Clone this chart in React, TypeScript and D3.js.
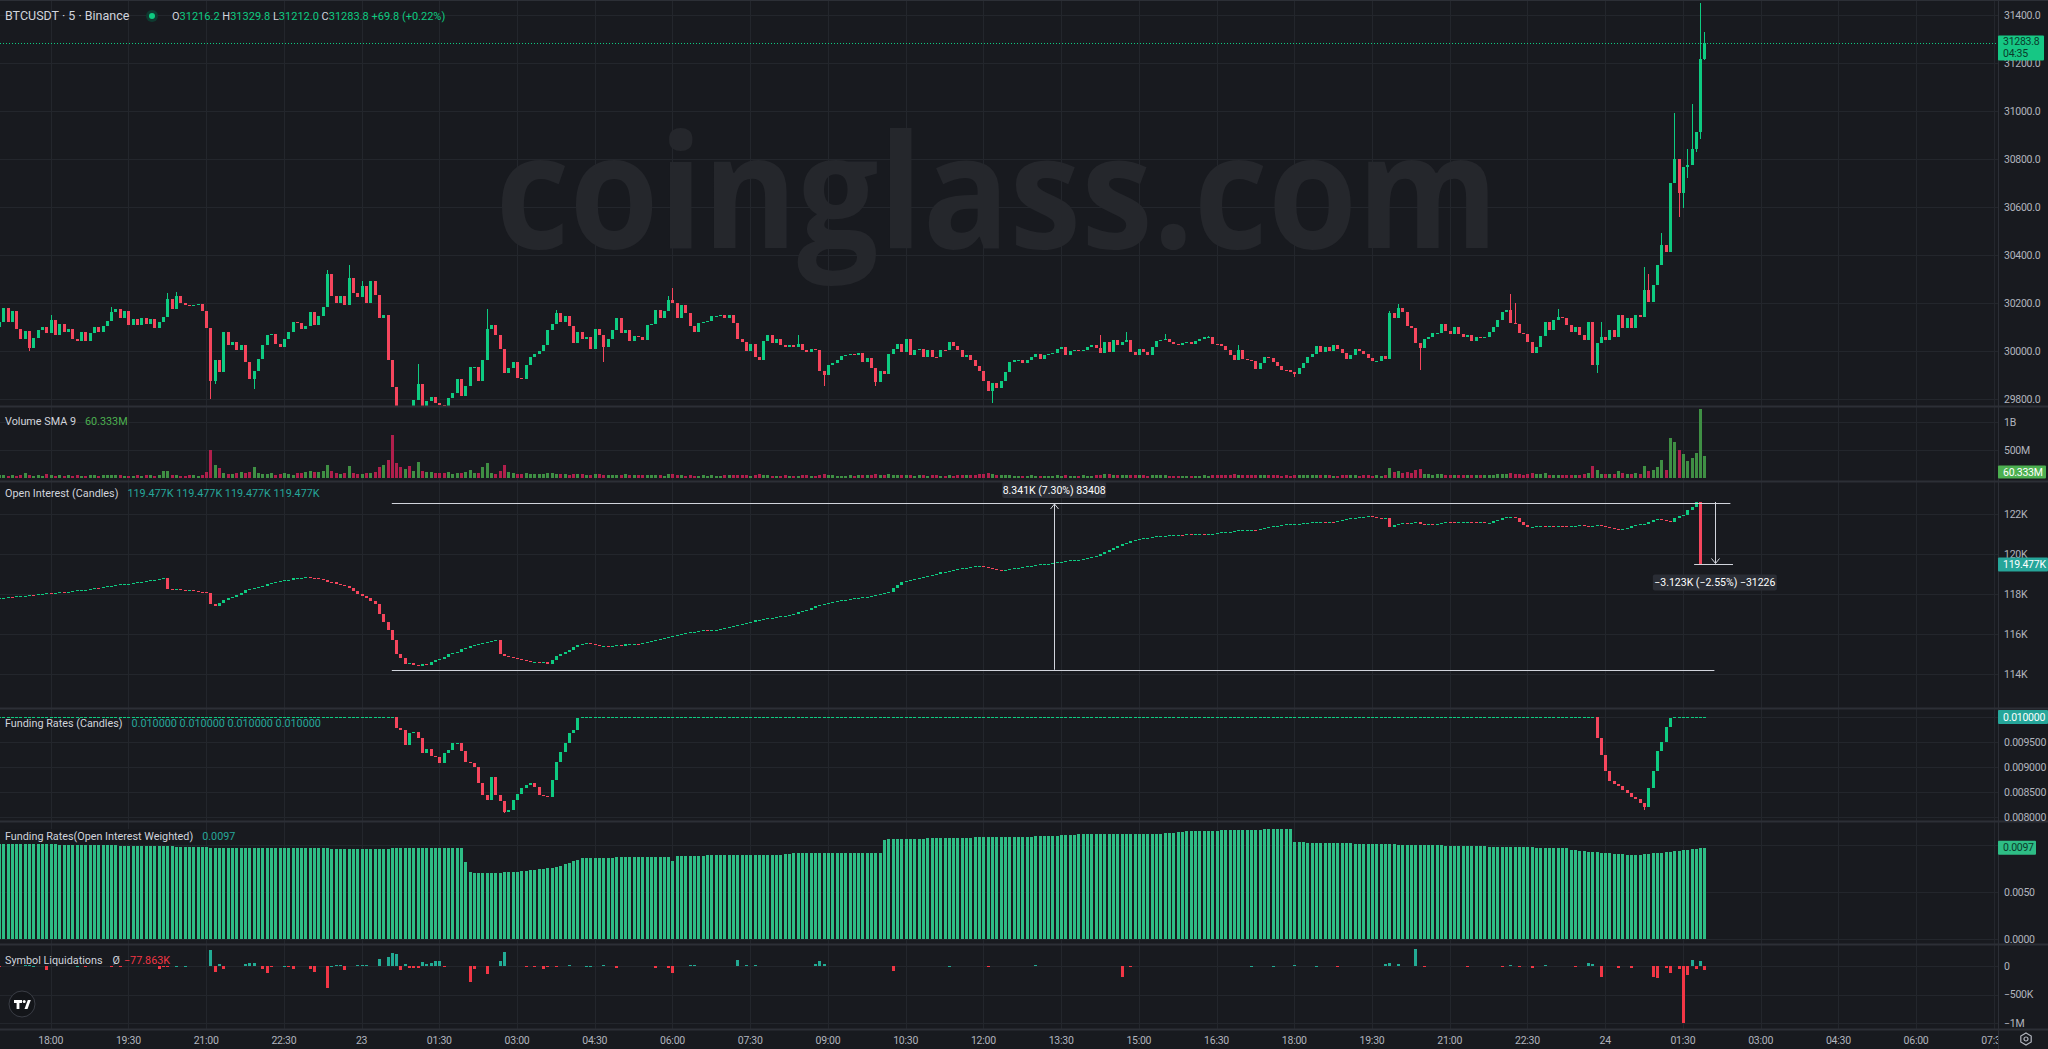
import React from "react";
import * as d3 from "d3";

// ------------------------------------------------------------------ data
// 5-minute candles, index 0 = 17:00 (day 22) ... index 395 = 01:55 (day 24)
const timeLabels = ["18:00","19:30","21:00","22:30","23","01:30","03:00","04:30","06:00","07:30","09:00","10:30","12:00","13:30","15:00","16:30","18:00","19:30","21:00","22:30","24","01:30","03:00","04:30","06:00","07:30"];

const priceFirstOpen = 30100;
const priceClose = [
30122,30179,30122,30165,30090,30049,30082,30013,30056,30087,
30099,30073,30130,30066,30113,30080,30090,30048,30042,30079,
30043,30076,30099,30080,30106,30127,30161,30175,30137,30165,
30108,30134,30109,30139,30113,30132,30094,30122,30140,30217,
30175,30228,30200,30193,30186,30192,30197,30165,30094,29876,
29961,29911,30080,30024,30038,30003,30024,29954,29883,29918,
29968,30024,30066,30070,30031,30017,30052,30080,30122,30118,
30090,30104,30161,30108,30144,30183,30320,30228,30200,30228,
30193,30306,30242,30225,30270,30200,30291,30235,30137,30151,
29961,29851,29760,29745,29765,29758,29794,29862,29765,29790,
29808,29785,29775,29766,29806,29823,29883,29813,29855,29932,
29935,29876,29963,30090,30108,30066,30010,29907,29930,29956,
29887,29883,29942,29975,29989,29999,30024,30087,30113,30158,
30122,30144,30104,30034,30080,30052,30059,30010,30090,30066,
30017,30052,30087,30137,30076,30087,30042,30062,30059,30045,
30108,30113,30172,30137,30165,30214,30200,30137,30193,30158,
30104,30080,30118,30122,30127,30144,30145,30148,30137,30151,
30118,30052,30038,30000,30031,29975,29961,30042,30066,30034,
30048,30024,30017,30024,30017,30028,30006,29996,30010,30003,
29916,29901,29940,29952,29962,29978,29985,29988,29982,29990,
29955,29972,29930,29869,29916,29904,29986,30010,30031,29996,
30048,29982,30006,30010,29977,30006,29977,29975,30006,30003,
30038,30020,30003,29975,29985,29961,29939,29918,29876,29834,
29865,29845,29876,29911,29954,29961,29962,29949,29963,29977,
29986,29968,29982,29986,29992,30010,30017,29982,30000,30006,
30000,30003,30017,30024,30014,29992,30038,29996,30045,30024,
30038,30045,29996,29982,30010,29996,29982,30017,30042,30044,
30048,30038,30031,30024,30035,30038,30028,30042,30052,30059,
30060,30031,30030,30020,30003,29982,29961,30006,29968,29961,
29960,29925,29949,29977,29972,29954,29939,29921,29920,29911,
29904,29930,29951,29976,29988,30021,29995,30018,30002,30025,
30007,29990,29965,29985,30010,30000,29986,29972,29958,29960,
29980,29968,30157,30136,30178,30164,30104,30094,30032,30011,
30049,30057,30074,30076,30113,30082,30070,30100,30072,30060,
30068,30040,30058,30055,30060,30078,30098,30129,30164,30171,
30118,30112,30074,30072,30039,29993,30018,30063,30122,30088,
30129,30143,30136,30108,30081,30101,30067,30046,30122,29942,
30032,30060,30046,30088,30060,30150,30094,30136,30094,30150,
30140,30254,30206,30275,30358,30442,30414,30701,30799,30657,
30768,30775,30840,30914,31216.2,31283.8
];
// notable wicks [candle index, price]
const priceHighs = [[12,30149],[26,30185],[39,30242],[41,30245],[76,30338],[81,30358],[84,30290],[97,29946],[113,30175],[129,30170],[155,30230],[156,30263],[185,30066],[255,30066],[261,30080],[270,30070],[280,30063],[287,30024],[322,30165],[324,30196],[350,30238],[351,30201],[361,30174],[371,30122],[381,30351],[382,30321],[385,30490],[388,30993],[391,30840],[392,31029],[394,31451],[395,31329.8]];
const priceLows = [[7,30000],[49,29799],[50,29862],[59,29841],[92,29700],[93,29700],[140,29954],[191,29855],[203,29855],[230,29785],[300,29890],[329,29921],[370,29907],[389,30560],[390,30594],[391,30720],[393,30830],[394,30882],[395,31212]];

// volume, millions
const volumeM = [
45,55,40,50,35,60,90,55,40,45,
35,70,50,40,45,35,50,40,45,35,
40,45,50,40,45,55,60,50,45,40,
40,35,45,40,50,45,40,50,120,125,
60,45,40,35,50,45,40,60,110,500,
240,170,90,80,75,85,100,95,110,190,
85,80,70,90,60,75,90,70,60,85,
95,100,120,105,110,130,240,120,90,80,
85,210,90,80,75,85,95,110,190,230,
330,760,270,190,160,210,130,290,120,110,
100,95,90,85,100,80,95,90,110,140,
90,85,190,270,90,80,130,230,100,90,
80,75,85,70,65,80,75,85,90,80,
70,65,60,80,70,65,55,60,75,70,
60,55,50,60,55,65,50,45,55,60,
50,45,55,60,40,65,70,45,50,40,
45,40,35,50,40,45,35,40,45,50,
55,60,45,50,40,60,65,50,45,40,
40,35,45,40,35,40,45,50,40,35,
60,70,55,45,40,40,35,45,40,50,
55,45,60,70,50,55,65,50,45,60,
55,45,40,50,45,40,45,50,40,35,
45,40,45,50,45,55,60,65,80,90,
75,60,55,50,45,40,40,35,40,45,
40,35,40,35,40,45,40,45,40,35,
40,45,40,35,45,60,70,65,60,55,
50,55,60,50,45,50,40,45,50,45,
45,40,35,40,35,40,40,35,40,45,
40,50,45,50,55,60,65,60,55,50,
45,60,55,50,45,50,45,40,45,40,
50,45,50,45,55,50,45,50,45,40,
40,45,55,50,45,40,45,50,40,45,
40,45,170,110,120,90,100,90,140,160,
80,70,60,75,65,60,55,60,55,50,
55,50,45,50,45,50,55,65,80,75,
90,70,65,60,75,95,80,70,85,60,
55,60,50,55,60,50,55,70,90,210,
150,80,70,75,65,120,85,80,75,90,
70,210,130,150,200,320,150,720,650,500,
420,300,350,450,1230,400
];

// open interest, thousands
const oiFirstOpen = 117.76;
const oiCloseK = [
117.79,117.82,117.85,117.83,117.88,117.9,117.92,117.95,117.93,118.0,
118.02,118.05,118.03,118.07,118.1,118.08,118.12,118.15,118.18,118.2,
118.22,118.25,118.3,118.28,118.33,118.38,118.4,118.45,118.48,118.5,
118.52,118.55,118.6,118.6,118.65,118.7,118.72,118.75,118.8,118.25,
118.22,118.27,118.2,118.18,118.22,118.15,118.12,118.08,118.05,117.5,
117.4,117.55,117.7,117.8,117.85,117.95,118.05,118.2,118.25,118.3,
118.35,118.42,118.5,118.55,118.6,118.65,118.7,118.72,118.78,118.8,
118.82,118.85,118.8,118.78,118.75,118.7,118.6,118.58,118.5,118.45,
118.4,118.3,118.15,118.0,117.9,117.8,117.65,117.5,117.0,116.6,
116.2,115.7,115.0,114.8,114.5,114.55,114.45,114.4,114.5,114.45,
114.6,114.7,114.75,114.85,115.0,115.05,115.1,115.25,115.3,115.4,
115.45,115.5,115.55,115.6,115.65,115.7,115.0,114.9,114.85,114.8,
114.75,114.7,114.65,114.6,114.62,114.55,114.58,114.5,114.7,114.9,
115.0,115.1,115.2,115.35,115.45,115.5,115.55,115.5,115.45,115.4,
115.42,115.38,115.4,115.45,115.42,115.48,115.5,115.52,115.5,115.55,
115.6,115.65,115.7,115.75,115.8,115.85,115.9,115.95,116.0,116.05,
116.1,116.12,116.15,116.18,116.15,116.2,116.2,116.25,116.3,116.35,
116.4,116.45,116.5,116.55,116.6,116.7,116.72,116.75,116.78,116.8,
116.85,116.88,116.9,116.95,117.0,117.1,117.15,117.2,117.3,117.4,
117.45,117.5,117.55,117.6,117.65,117.7,117.72,117.75,117.8,117.82,
117.85,117.87,117.9,117.95,118.0,118.05,118.1,118.3,118.45,118.6,
118.65,118.7,118.75,118.8,118.85,118.9,118.95,119.0,119.1,119.12,
119.15,119.2,119.25,119.3,119.32,119.35,119.38,119.4,119.35,119.3,
119.25,119.22,119.2,119.2,119.25,119.3,119.32,119.35,119.4,119.42,
119.45,119.48,119.5,119.52,119.55,119.58,119.6,119.65,119.68,119.7,
119.72,119.75,119.8,119.85,119.9,120.0,120.1,120.2,120.3,120.4,
120.5,120.55,120.65,120.7,120.75,120.78,120.8,120.85,120.88,120.9,
120.92,120.95,120.95,120.97,120.95,121.0,120.98,121.0,121.02,121.0,
121.0,121.02,121.05,121.08,121.1,121.12,121.15,121.18,121.2,121.2,
121.22,121.2,121.25,121.3,121.35,121.4,121.42,121.45,121.48,121.5,
121.5,121.52,121.55,121.55,121.58,121.6,121.62,121.6,121.62,121.6,
121.65,121.7,121.75,121.8,121.82,121.85,121.85,121.88,121.85,121.82,
121.8,121.8,121.35,121.45,121.5,121.55,121.5,121.55,121.6,121.5,
121.45,121.5,121.48,121.5,121.55,121.6,121.58,121.55,121.6,121.6,
121.62,121.58,121.55,121.6,121.55,121.55,121.65,121.7,121.8,121.85,
121.85,121.8,121.6,121.45,121.35,121.35,121.38,121.4,121.35,121.38,
121.35,121.4,121.38,121.35,121.4,121.42,121.45,121.4,121.38,121.4,
121.45,121.4,121.35,121.3,121.25,121.2,121.25,121.3,121.4,121.45,
121.5,121.5,121.6,121.7,121.75,121.7,121.65,121.6,121.8,121.9,
121.95,122.2,122.35,122.6,119.477,119.477
];

// funding rate candles: 0.01 everywhere except two dips
const frBase = 0.01;
const frDip1Start = 92;
const frDip1 = [0.009773,0.00974,0.00944,0.009673,0.009707,0.009573,0.009287,0.009353,0.00922,0.009193,0.009087,0.009273,0.00934,0.009473,0.009487,0.009327,0.009107,0.009073,0.009007,0.008673,0.00844,0.00834,0.008807,0.00844,0.00832,0.008107,0.00814,0.00834,0.00846,0.008573,0.00864,0.008673,0.008593,0.00844,0.00842,0.00841,0.00874,0.009107,0.009307,0.009487,0.009673,0.00975,0.009973,0.01];
const frDip2Start = 370;
const frDip2 = [0.009582,0.009242,0.00893,0.00872,0.008668,0.008616,0.008538,0.008486,0.008406,0.008354,0.008276,0.008198,0.00859,0.00893,0.00932,0.009504,0.009792,0.009974,0.01];
const frLows = [[117,0.00808],[381,0.00815]];

// funding rate, OI weighted
const frOiWeighted = [
0.01015,0.01014,0.01013,0.01012,0.01012,0.01011,0.0101,0.0101,0.01009,0.01008,
0.01008,0.01007,0.01006,0.01006,0.01005,0.01004,0.01003,0.01003,0.01002,0.01001,
0.01,0.01,0.00999,0.00998,0.00997,0.00997,0.00996,0.00995,0.00994,0.00994,
0.00993,0.00992,0.00991,0.00991,0.0099,0.00989,0.00988,0.00987,0.00987,0.00986,
0.00985,0.00984,0.00983,0.00982,0.00981,0.0098,0.00979,0.00978,0.00977,0.00972,
0.0097,0.0097,0.00969,0.00969,0.00968,0.00968,0.00968,0.00967,0.00967,0.00967,
0.00966,0.00966,0.00966,0.00965,0.00965,0.00965,0.00965,0.00964,0.00964,0.00964,
0.00964,0.00964,0.00963,0.00963,0.00963,0.00963,0.00963,0.00962,0.00962,0.00962,
0.00962,0.00962,0.00962,0.00961,0.00961,0.00961,0.00961,0.00961,0.00961,0.0096,
0.00962,0.00965,0.00968,0.0097,0.00972,0.00972,0.00973,0.00973,0.00973,0.00972,
0.00972,0.00971,0.0097,0.0097,0.00969,0.00968,0.00968,0.00967,0.0082,0.00712,
0.00705,0.00702,0.00698,0.007,0.00702,0.00706,0.00704,0.00708,0.0071,0.00714,
0.00718,0.00722,0.00726,0.0073,0.00735,0.0074,0.00746,0.00752,0.0076,0.0077,
0.0078,0.00795,0.0081,0.00825,0.0084,0.00858,0.00862,0.00864,0.00865,0.00866,
0.00866,0.00867,0.00867,0.00868,0.00868,0.00868,0.00869,0.00869,0.00869,0.0087,
0.0087,0.0087,0.0087,0.00871,0.00871,0.00871,0.00835,0.0088,0.00885,0.00886,
0.00887,0.00887,0.00888,0.00888,0.00889,0.00889,0.00889,0.0089,0.0089,0.0089,
0.00891,0.00891,0.00891,0.00892,0.00892,0.00892,0.00893,0.00893,0.00893,0.00894,
0.00894,0.00894,0.00905,0.00908,0.0091,0.00911,0.00912,0.00912,0.00913,0.00913,
0.00914,0.00914,0.00914,0.00915,0.00915,0.00915,0.00916,0.00916,0.00916,0.00917,
0.00917,0.00917,0.00918,0.00918,0.00918,0.01055,0.0106,0.01062,0.01064,0.01065,
0.01066,0.01067,0.01068,0.01068,0.01069,0.0107,0.0107,0.01071,0.01071,0.01072,
0.01072,0.01073,0.01073,0.01074,0.01074,0.01075,0.0108,0.01082,0.01083,0.01084,
0.01085,0.01086,0.01087,0.01087,0.01088,0.01088,0.01089,0.01089,0.0109,0.0109,
0.01091,0.01091,0.01092,0.01092,0.01093,0.01093,0.01105,0.01108,0.0111,0.01111,
0.01112,0.01113,0.01114,0.01114,0.01115,0.01115,0.01116,0.01116,0.01117,0.01117,
0.01118,0.01118,0.01119,0.01119,0.0112,0.0112,0.01121,0.01121,0.01122,0.01122,
0.01123,0.01123,0.01124,0.0114,0.01143,0.01145,0.01147,0.01148,0.0115,0.01151,
0.01152,0.01153,0.01154,0.01155,0.01156,0.01157,0.01158,0.01159,0.0116,0.01161,
0.01162,0.01163,0.01164,0.01165,0.01166,0.01167,0.01168,0.01169,0.0117,0.0117,
0.0103,0.01028,0.01027,0.01026,0.01025,0.01024,0.01023,0.01022,0.01021,0.0102,
0.01019,0.01018,0.01017,0.01016,0.01015,0.01014,0.01013,0.01012,0.01011,0.0101,
0.01009,0.01008,0.01007,0.01006,0.01005,0.01004,0.01003,0.01002,0.01001,0.01,
0.00999,0.00998,0.00997,0.00996,0.00995,0.00994,0.00993,0.00992,0.00991,0.0099,
0.00989,0.00988,0.00987,0.00986,0.00985,0.00984,0.00983,0.00982,0.00981,0.0098,
0.00979,0.00978,0.00977,0.00976,0.00975,0.00974,0.00973,0.00972,0.00971,0.0097,
0.00969,0.00968,0.00967,0.00966,0.0095,0.00945,0.0094,0.00935,0.0093,0.00926,
0.00922,0.00918,0.00914,0.0091,0.00906,0.00903,0.009,0.00898,0.00896,0.00896,
0.00898,0.009,0.00905,0.0091,0.00915,0.0092,0.00925,0.0093,0.00935,0.0094,
0.00945,0.0095,0.00955,0.0096,0.00965,0.0097
];

// symbol liquidations [candle index, thousands]  (+ up / - down)
const liquidations = [[0,-8],[6,10],[7,12],[8,8],[11,-70],[18,6],[20,-6],[26,-25],[28,-25],[37,-45],[38,-15],[39,-10],[41,8],[43,8],[49,280],[50,-100],[51,35],[52,-60],[57,40],[58,55],[59,50],[61,-60],[62,-115],[63,-10],[66,8],[67,-20],[68,-60],[72,-60],[73,-100],[76,-390],[77,8],[78,10],[79,12],[80,-70],[83,20],[84,22],[85,20],[88,130],[90,160],[91,220],[92,210],[93,-70],[94,35],[95,-40],[96,-40],[97,-40],[98,70],[99,30],[100,45],[101,95],[102,95],[103,-25],[109,-275],[110,-60],[113,-140],[116,95],[117,250],[122,-8],[124,-10],[126,-60],[127,-25],[129,-10],[132,10],[136,8],[137,8],[140,10],[143,-35],[152,-30],[155,-30],[156,-130],[160,12],[161,12],[171,105],[173,20],[175,15],[189,30],[190,90],[191,40],[207,-80],[220,8],[229,-15],[240,10],[260,-190],[262,-10],[290,8],[295,8],[300,10],[305,8],[310,-8],[321,40],[322,60],[324,30],[328,300],[330,-10],[340,-15],[348,-20],[350,12],[352,-25],[355,-30],[358,10],[365,-20],[368,50],[369,40],[371,-200],[375,-40],[378,-30],[383,-190],[384,-210],[386,-40],[387,-120],[389,-60],[390,-1000],[391,-150],[392,100],[393,-60],[394,80],[395,-77.863]];

// axis ticks
const priceTicks = [29800,30000,30200,30400,30600,30800,31000,31200,31400];
const volTicks = [500,1000];
const volTickLabels = ["500M","1B"];
const oiTicks = [114,116,118,120,122];
const frTicks = [0.008,0.0085,0.009,0.0095];
const fwTicks = [0,0.005];
const liqTicks = [0,-500,-1000];
const liqTickLabels = ["0","\u2212500K","\u22121M"];

// measure annotations on OI pane
const measure1 = { from: 91, to: 401, lowK: 114.21, highK: 122.55, arrowAt: 244.4, label: "8.341K (7.30%) 83408" };
const measure2 = { from: 392.6, to: 401.6, arrowAt: 397.4, topK: 122.6, botK: 119.477, label: "\u22123.123K (\u22122.55%) \u221231226" };

// ------------------------------------------------------------------ style
const BG = "#181a1f";
const GRID = "#23262c";
const SEP = "#2c2f36";
const UP = "#0ecb81";
const DOWN = "#f6465d";
const VOL_UP = "#3f8f44";
const VOL_DOWN = "#b01f4c";
const TEAL = "#26a69a";
const TEXT = "#b2b5be";
const TITLE = "#d1d4dc";
const FONT = "Roboto, 'Noto Sans', 'DejaVu Sans', sans-serif";
const CHART_R = 1998;
const AX_FS = 10.5;
const AX_LS = -0.25;

const panes = {
  price: [0, 406],
  vol: [407, 481],
  oi: [482, 708],
  fr: [709, 821],
  fw: [822, 944],
  liq: [945, 1029],
};

function buildCandles(opens: number[], closes: number[], highs: number[], lows: number[], x: any, y: any, keyPrefix: string) {
  return closes.map((c, i) => {
    const o = opens[i];
    const up = c >= o;
    const col = up ? UP : DOWN;
    const cx = Math.round(x(i));
    const yt = y(Math.max(o, c));
    const yb = y(Math.min(o, c));
    const h = Math.max(1, yb - yt);
    const yh = y(highs[i]);
    const yl = y(lows[i]);
    return (
      <g key={keyPrefix + i}>
        {(yh < yt - 0.5 || yl > yb + 0.5) && (
          <line x1={cx + 0.5} x2={cx + 0.5} y1={yh} y2={yl} stroke={col} strokeWidth={1} />
        )}
        <rect x={cx - 1} y={yt} width={3} height={h} fill={col} />
      </g>
    );
  });
}

export default function App() {
  const x = d3.scaleLinear().domain([12, 462]).range([50.7, 1993.8]);
  const yP = d3.scaleLinear().domain([29800, 31400]).range([399, 15]);
  const yV = d3.scaleLinear().domain([0, 1000]).range([478, 422]);
  const yOI = d3.scaleLinear().domain([114, 122]).range([674, 514]);
  const yFR = d3.scaleLinear().domain([0.008, 0.01]).range([817, 717]);
  const yFW = d3.scaleLinear().domain([0, 0.005]).range([939, 892]);
  const yL = d3.scaleLinear().domain([-1000, 0]).range([1023, 966]);

  // price
  const pOpen = priceClose.map((c, i) => (i === 0 ? priceFirstOpen : priceClose[i - 1]));
  const hiMap = new Map(priceHighs.map((d) => [d[0], d[1]] as [number, number]));
  const loMap = new Map(priceLows.map((d) => [d[0], d[1]] as [number, number]));
  const pHigh = priceClose.map((c, i) => hiMap.get(i) ?? Math.max(c, pOpen[i]));
  const pLow = priceClose.map((c, i) => loMap.get(i) ?? Math.min(c, pOpen[i]));
  const last = priceClose[priceClose.length - 1];

  // OI
  const oiOpen = oiCloseK.map((c, i) => (i === 0 ? oiFirstOpen : oiCloseK[i - 1]));
  const oiHigh = oiCloseK.map((c, i) => Math.max(c, oiOpen[i]));
  const oiLow = oiCloseK.map((c, i) => Math.min(c, oiOpen[i]));

  // funding candles
  const frClose = priceClose.map((_, i) => {
    if (i >= frDip1Start && i < frDip1Start + frDip1.length) return frDip1[i - frDip1Start];
    if (i >= frDip2Start && i < frDip2Start + frDip2.length) return frDip2[i - frDip2Start];
    return frBase;
  });
  const frOpen = frClose.map((c, i) => (i === 0 ? frBase : frClose[i - 1]));
  const frLoMap = new Map(frLows.map((d) => [d[0], d[1]] as [number, number]));
  const frHigh = frClose.map((c, i) => Math.max(c, frOpen[i]));
  const frLow = frClose.map((c, i) => frLoMap.get(i) ?? Math.min(c, frOpen[i]));

  const gridXs = timeLabels.map((_, k) => Math.round(x(12 + 18 * k)) + 0.5);

  const hLine = (y: number, key: string) => (
    <line key={key} x1={0} x2={CHART_R} y1={Math.round(y) + 0.5} y2={Math.round(y) + 0.5} stroke={GRID} strokeWidth={1} />
  );
  const axisText = (y: number, label: string, key: string) => (
    <text key={key} x={2004} y={y} dy="0.35em" fill={TEXT} fontSize={AX_FS} letterSpacing={AX_LS} fontFamily={FONT}>{label}</text>
  );

  const clip = (id: string, r: number[]) => (
    <clipPath id={id} key={id}><rect x={0} y={r[0]} width={CHART_R} height={r[1] - r[0]} /></clipPath>
  );

  const m1Top = yOI(measure1.highK);
  const m1Bot = yOI(measure1.lowK);
  const m1x = x(measure1.arrowAt);
  const m2Top = yOI(measure2.topK);
  const m2Bot = yOI(measure2.botK);
  const m2x = x(measure2.arrowAt);

  const tag = (y: number, w: number, h: number, bg: string, fg: string, label: string, key: string) => (
    <g key={key}>
      <rect x={1998} y={y - h / 2} width={w} height={h} rx={1} fill={bg} />
      <text x={2003} y={y} dy="0.35em" fill={fg} fontSize={AX_FS} letterSpacing={AX_LS}>{label}</text>
    </g>
  );

  return (
    <svg width={2048} height={1049} style={{ position: "absolute", left: 0, top: 0, display: "block" }} fontFamily={FONT}>
      <defs>
        {clip("cp-price", panes.price)}
        {clip("cp-vol", panes.vol)}
        {clip("cp-oi", panes.oi)}
        {clip("cp-fr", panes.fr)}
        {clip("cp-fw", panes.fw)}
        {clip("cp-liq", panes.liq)}
        <clipPath id="cp-time"><rect x={0} y={1029} width={CHART_R} height={20} /></clipPath>
      </defs>
      <rect x={0} y={0} width={2048} height={1049} fill={BG} />

      {/* vertical grid */}
      {gridXs.map((gx, k) => (
        <line key={"vg" + k} x1={gx} x2={gx} y1={0} y2={1029} stroke={GRID} strokeWidth={1} />
      ))}
      {/* horizontal grid */}
      {priceTicks.map((t) => hLine(yP(t), "pg" + t))}
      {volTicks.map((t) => hLine(yV(t), "vg" + t))}
      {oiTicks.map((t) => hLine(yOI(t), "og" + t))}
      {[...frTicks, 0.01].map((t) => hLine(yFR(t), "fg" + t))}
      {[...fwTicks, 0.01].map((t) => hLine(yFW(t), "wg" + t))}
      {liqTicks.map((t) => hLine(yL(t), "lg" + t))}

      {/* watermark */}
      <text x={997} y={248} textAnchor="middle" fontSize={158} fontWeight={700} fill="#25272c"
        fontFamily="'Open Sans', Roboto, sans-serif" textLength={1003} lengthAdjust="spacingAndGlyphs">coinglass.com</text>

      {/* price */}
      <g clipPath="url(#cp-price)" shapeRendering="crispEdges">
        {buildCandles(pOpen, priceClose, pHigh, pLow, x, yP, "p")}
      </g>
      <line x1={0} x2={CHART_R} y1={Math.round(yP(last)) + 0.5} y2={Math.round(yP(last)) + 0.5} stroke={UP} strokeWidth={1} strokeDasharray="1 2" />

      {/* volume */}
      <g clipPath="url(#cp-vol)" shapeRendering="crispEdges">
        {volumeM.map((v, i) => {
          const cx = Math.round(x(i));
          const col = priceClose[i] >= pOpen[i] ? VOL_UP : VOL_DOWN;
          return <rect key={"v" + i} x={cx - 1} y={yV(v)} width={3} height={Math.max(1, yV(0) - yV(v))} fill={col} />;
        })}
      </g>

      {/* open interest */}
      <g clipPath="url(#cp-oi)" shapeRendering="crispEdges">
        {buildCandles(oiOpen, oiCloseK, oiHigh, oiLow, x, yOI, "o")}
      </g>
      <g stroke="#d1d4dc" strokeWidth={1} fill="none">
        <line x1={x(measure1.from)} x2={x(measure1.to)} y1={Math.round(m1Top) + 0.5} y2={Math.round(m1Top) + 0.5} />
        <line x1={x(measure1.from)} x2={x(measure1.to) - 16} y1={Math.round(m1Bot) + 0.5} y2={Math.round(m1Bot) + 0.5} />
        <line x1={Math.round(m1x) + 0.5} x2={Math.round(m1x) + 0.5} y1={m1Bot} y2={m1Top + 1} />
        <path d={`M${Math.round(m1x) + 0.5 - 4},${m1Top + 6} L${Math.round(m1x) + 0.5},${m1Top + 1} L${Math.round(m1x) + 0.5 + 4},${m1Top + 6}`} />
        <line x1={x(measure2.from)} x2={x(measure2.to)} y1={Math.round(m2Bot) + 0.5} y2={Math.round(m2Bot) + 0.5} />
        <line x1={Math.round(m2x) + 0.5} x2={Math.round(m2x) + 0.5} y1={m2Top} y2={m2Bot - 1} />
        <path d={`M${Math.round(m2x) + 0.5 - 4},${m2Bot - 6} L${Math.round(m2x) + 0.5},${m2Bot - 1} L${Math.round(m2x) + 0.5 + 4},${m2Bot - 6}`} />
      </g>
      <g>
        <rect x={m1x - 52} y={m1Top - 21} width={104} height={16} rx={2} fill="#2a2d35" />
        <text x={m1x} y={m1Top - 13} dy="0.35em" textAnchor="middle" fill="#ffffff" fontSize={10.5}>{measure1.label}</text>
        <rect x={m2x - 62} y={m2Bot + 10} width={124} height={16} rx={2} fill="#2a2d35" />
        <text x={m2x} y={m2Bot + 18} dy="0.35em" textAnchor="middle" fill="#ffffff" fontSize={10.5}>{measure2.label}</text>
      </g>

      {/* funding candles */}
      <g clipPath="url(#cp-fr)" shapeRendering="crispEdges">
        {buildCandles(frOpen, frClose, frHigh, frLow, x, yFR, "f")}
      </g>

      {/* funding OI weighted */}
      <g clipPath="url(#cp-fw)" shapeRendering="crispEdges">
        {frOiWeighted.map((v, i) => {
          const cx = Math.round(x(i));
          return <rect key={"w" + i} x={cx - 1} y={yFW(v)} width={3} height={yFW(0) - yFW(v)} fill="#2ebd85" />;
        })}
      </g>

      {/* liquidations */}
      <g clipPath="url(#cp-liq)" shapeRendering="crispEdges">
        {liquidations.map(([i, v]) => {
          const cx = Math.round(x(i));
          const y0 = yL(0), y1 = yL(v);
          return <rect key={"l" + i} x={cx - 1} y={Math.min(y0, y1)} width={3} height={Math.max(1, Math.abs(y1 - y0))} fill={v >= 0 ? "#22ab94" : "#f23645"} />;
        })}
      </g>

      {/* pane separators */}
      {[406, 481, 708, 821, 944, 1029].map((y) => (
        <line key={"sep" + y} x1={0} x2={2048} y1={y + 0.5} y2={y + 0.5} stroke={SEP} strokeWidth={2} />
      ))}
      <line x1={CHART_R + 0.5} x2={CHART_R + 0.5} y1={0} y2={1049} stroke={SEP} strokeWidth={1} />
      <line x1={0} x2={2048} y1={0.5} y2={0.5} stroke={SEP} strokeWidth={1} />

      {/* right axis labels */}
      {priceTicks.map((t) => axisText(yP(t), t.toFixed(1), "pt" + t))}
      {volTicks.map((t, k) => axisText(yV(t), volTickLabels[k], "vt" + t))}
      {oiTicks.map((t) => axisText(yOI(t), t + "K", "ot" + t))}
      {frTicks.map((t) => axisText(yFR(t), t.toFixed(6), "ft" + t))}
      {fwTicks.map((t) => axisText(yFW(t), t.toFixed(4), "wt" + t))}
      {liqTicks.map((t, k) => axisText(yL(t), liqTickLabels[k], "lt" + t))}

      {/* current value tags */}
      <rect x={1998} y={yP(last) - 7.5} width={46} height={25} rx={1} fill="#16c784" />
      <text x={2003} y={yP(last) - 1.5} dy="0.35em" fill="#0b3b2b" fontSize={AX_FS} letterSpacing={AX_LS}>{last.toFixed(1)}</text>
      <text x={2003} y={yP(last) + 10.5} dy="0.35em" fill="#0b3b2b" fontSize={AX_FS} letterSpacing={AX_LS}>04:35</text>

      {tag(472, 48, 13, "#4caf50", "#ffffff", "60.333M", "tv")}
      {tag(yOI(119.477), 50, 14, TEAL, "#ffffff", "119.477K", "to")}
      {tag(yFR(0.01), 50, 14, TEAL, "#ffffff", "0.010000", "tf")}
      {tag(yFW(0.0097), 38, 14, "#2ebd85", "#0b3b2b", "0.0097", "tw")}

      {/* time axis */}
      <g clipPath="url(#cp-time)">
        {timeLabels.map((lab, k) => (
          <text key={"tl" + k} x={x(12 + 18 * k)} y={1040} dy="0.35em" textAnchor="middle" fill={TEXT} fontSize={AX_FS} letterSpacing={AX_LS}>{lab}</text>
        ))}
      </g>
      {/* settings icon */}
      <g transform="translate(2026,1039)" fill="none" stroke={TEXT} strokeWidth={1.2}>
        <path d="M0,-6 L5.2,-3 L5.2,3 L0,6 L-5.2,3 L-5.2,-3 Z" />
        <circle r={2} />
      </g>

      {/* header */}
      <text x={5} y={16} dy="0.35em" fill={TITLE} fontSize={12.5}>BTCUSDT · 5 · Binance</text>
      <circle cx={152} cy={16} r={6} fill="#0f3a30" />
      <circle cx={152} cy={16} r={3} fill="#0ecb81" />
      <text x={172} y={16} dy="0.35em" fontSize={11}>
        <tspan fill={TITLE}>O</tspan><tspan fill={UP}>31216.2 </tspan>
        <tspan fill={TITLE}>H</tspan><tspan fill={UP}>31329.8 </tspan>
        <tspan fill={TITLE}>L</tspan><tspan fill={UP}>31212.0 </tspan>
        <tspan fill={TITLE}>C</tspan><tspan fill={UP}>31283.8 +69.8 (+0.22%)</tspan>
      </text>

      {/* pane titles */}
      <g fontSize={10.8}>
        <text x={5} y={421} dy="0.35em">
          <tspan fill={TITLE}>Volume SMA 9</tspan><tspan fill="#4caf50" dx={9}>60.333M</tspan>
        </text>
        <text x={5} y={493} dy="0.35em">
          <tspan fill={TITLE}>Open Interest (Candles)</tspan><tspan fill={TEAL} dx={9}>119.477K 119.477K 119.477K 119.477K</tspan>
        </text>
        <text x={5} y={723} dy="0.35em">
          <tspan fill={TITLE}>Funding Rates (Candles)</tspan><tspan fill={TEAL} dx={9}>0.010000 0.010000 0.010000 0.010000</tspan>
        </text>
        <rect x={4} y={829} width={196} height={15} fill={BG} opacity={0.85} />
        <text x={5} y={836} dy="0.35em">
          <tspan fill={TITLE}>Funding Rates(Open Interest Weighted)</tspan><tspan fill={TEAL} dx={9}>0.0097</tspan>
        </text>
        <text x={5} y={960} dy="0.35em">
          <tspan fill={TITLE}>Symbol Liquidations</tspan><tspan fill={TITLE} dx={10}>Ø</tspan><tspan fill="#f23645" dx={4}>{"\u221277.863K"}</tspan>
        </text>
      </g>

      {/* TV logo */}
      <g transform="translate(22,1004)">
        <circle r={13} fill="#131519" stroke="#3a3d45" strokeWidth={1} />
        <path d="M-8,-4 H0 V-1 H-2.6 V5 H-5.4 V-1 H-8 Z" fill="#ffffff" />
        <circle cx={2.2} cy={-2.5} r={1.5} fill="#ffffff" />
        <path d="M2.5,5 L5.8,-4 H8.8 L5.5,5 Z" fill="#ffffff" />
      </g>
    </svg>
  );
}
